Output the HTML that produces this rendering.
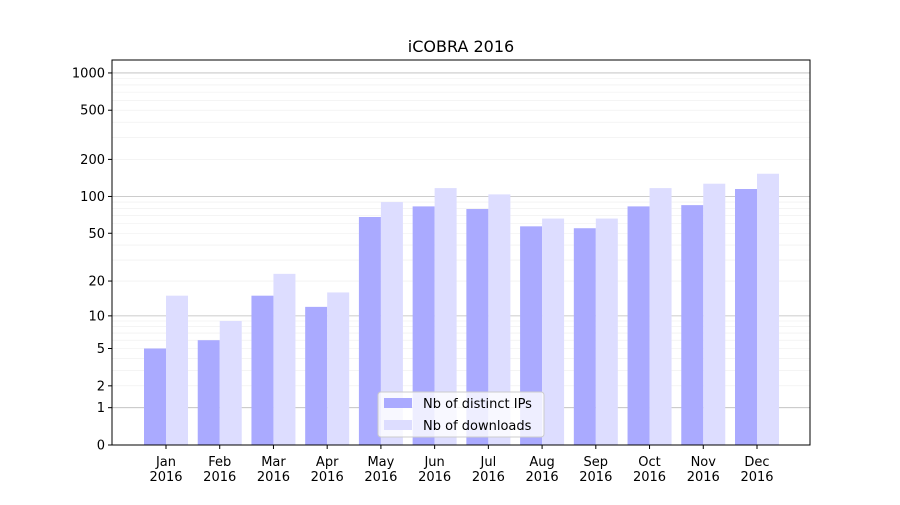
<!DOCTYPE html>
<html><head><meta charset="utf-8"><style>
body{margin:0;background:#fff;font-family:"Liberation Sans","DejaVu Sans",sans-serif}
</style></head><body>
<svg id="c" width="900" height="500" xmlns="http://www.w3.org/2000/svg" font-family="DejaVu Sans, Liberation Sans, sans-serif"></svg>
<script>
const months=["Jan","Feb","Mar","Apr","May","Jun","Jul","Aug","Sep","Oct","Nov","Dec"];
const ips=[5,6,15,12,68,83,79,57,55,83,85,115];
const downloads=[15,9,23,16,90,117,104,66,66,117,127,153];
const yTicks=[0,1,2,5,10,20,50,100,200,500,1000];
const NS="http://www.w3.org/2000/svg";
const svg=document.getElementById('c');
const L=112,R=810,T=60,B=445;
function y(v){return B-124*Math.log10(v+1);}
const step=(757-166)/11;
function xc(i){return 166+i*step;}
function el(t,a,p){const e=document.createElementNS(NS,t);for(const k in a)e.setAttribute(k,a[k]);(p||svg).appendChild(e);return e;}
const g=el('g',{});


[1,10,100,1000].forEach(d=>{for(let m=1;m<10;m++){const v=d*m;if(v>1100)break;const yy=y(v);
el('line',{x1:L,x2:R,y1:yy,y2:yy,stroke:m==1?'#bbb':'#eee','stroke-width':m==1?0.8:0.6},g);}});
months.forEach((m,i)=>{
 const a=el('rect',{x:xc(i)-22,y:y(ips[i]),width:22,height:B-y(ips[i]),fill:'#aaaaff'});
 
 
 const b=el('rect',{x:xc(i),y:y(downloads[i]),width:22,height:B-y(downloads[i]),fill:'#ddddff'});
 
 
 el('line',{x1:xc(i),x2:xc(i),y1:B,y2:B+4,stroke:'#000'});
 const t=el('text',{x:xc(i),y:B+21,'text-anchor':'middle','font-size':13});
 t.textContent=m;
 
 
 const t2=el('text',{x:xc(i),y:B+36,'text-anchor':'middle','font-size':13});
 t2.textContent='2016';
});
yTicks.forEach(v=>{const yy=y(v);el('line',{x1:L-4,x2:L,y1:yy,y2:yy,stroke:'#000'});
 const t=el('text',{x:L-7,y:yy+4.5,'text-anchor':'end','font-size':13});t.textContent=v;
 
 });
const fr=el('rect',{x:L,y:T,width:R-L,height:B-T,fill:'none',stroke:'#000','stroke-width':1});


const ti=el('text',{x:(L+R)/2,y:52,'text-anchor':'middle','font-size':16});ti.textContent='iCOBRA 2016';


const lg=el('g',{});


el('rect',{x:378,y:392,width:166,height:45,rx:3,fill:'#fff','fill-opacity':0.8,stroke:'#ccc'},lg);
el('rect',{x:384,y:398,width:28,height:10,fill:'#aaaaff'},lg);
el('rect',{x:384,y:420,width:28,height:10,fill:'#ddddff'},lg);
const l1=el('text',{x:423,y:408,'font-size':13},lg);l1.textContent='Nb of distinct IPs';


const l2=el('text',{x:423,y:430,'font-size':13},lg);l2.textContent='Nb of downloads';


</script>
</body></html>
